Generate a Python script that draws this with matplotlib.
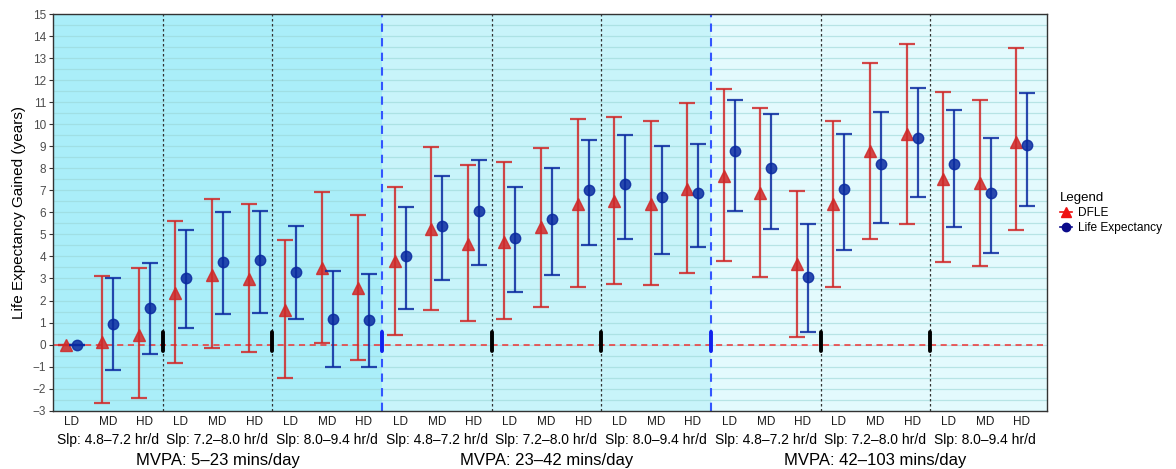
import matplotlib
matplotlib.use("Agg")
import matplotlib.pyplot as plt
from matplotlib.lines import Line2D
import numpy as np

plt.rcParams['font.family'] = ['Liberation Sans', 'DejaVu Sans']

# ---- data ----
dose_labels = ["LD", "MD", "HD"] * 9
sleep_labels = ["Slp: 4.8\u20137.2 hr/d", "Slp: 7.2\u20138.0 hr/d", "Slp: 8.0\u20139.4 hr/d"] * 3
mvpa_labels = ["MVPA: 5\u201323 mins/day", "MVPA: 23\u201342 mins/day", "MVPA: 42\u2013103 mins/day"]

dfle = [0.0, 0.13, 0.44, 2.33, 3.16, 2.96, 1.56, 3.46, 2.55,
        3.78, 5.25, 4.56, 4.64, 5.32, 6.38, 6.52, 6.38, 7.06,
        7.65, 6.86, 3.66, 6.37, 8.78, 9.54, 7.51, 7.33, 9.19]
dfle_lo = [0.0, -2.64, -2.42, -0.83, -0.15, -0.32, -1.53, 0.07, -0.68,
           0.44, 1.58, 1.08, 1.16, 1.71, 2.61, 2.75, 2.69, 3.25,
           3.79, 3.08, 0.34, 2.61, 4.79, 5.47, 3.76, 3.58, 5.20]
dfle_hi = [0.0, 3.10, 3.48, 5.62, 6.62, 6.39, 4.75, 6.91, 5.88,
           7.17, 8.97, 8.15, 8.28, 8.93, 10.25, 10.31, 10.13, 10.95,
           11.60, 10.73, 6.97, 10.15, 12.78, 13.64, 11.45, 11.11, 13.46]

le = [0.0, 0.95, 1.68, 3.02, 3.75, 3.82, 3.31, 1.16, 1.10,
      4.00, 5.38, 6.08, 4.85, 5.69, 7.01, 7.27, 6.68, 6.86,
      8.77, 8.03, 3.07, 7.07, 8.21, 9.37, 8.19, 6.89, 9.06]
le_lo = [0.0, -1.14, -0.41, 0.75, 1.39, 1.45, 1.16, -1.02, -1.02,
         1.62, 2.92, 3.61, 2.37, 3.16, 4.52, 4.77, 4.11, 4.41,
         6.05, 5.24, 0.59, 4.31, 5.52, 6.68, 5.35, 4.14, 6.29]
le_hi = [0.0, 3.01, 3.72, 5.21, 6.02, 6.08, 5.37, 3.32, 3.22,
         6.26, 7.66, 8.36, 7.15, 8.03, 9.28, 9.51, 9.02, 9.10,
         11.11, 10.45, 5.47, 9.54, 10.55, 11.64, 10.66, 9.37, 11.43]

region_colors = ["#AAEEF9", "#C8F4FA", "#E3FAFD"]

# ---- figure ----
fig = plt.figure(figsize=(11.76, 4.69), dpi=100)
ax = fig.add_axes([53 / 1176, 1 - 410.7 / 469, (1047.3 - 53) / 1176, (410.7 - 14) / 469])

n = len(dfle)
x = np.arange(1, n + 1)
xmin, xmax = 0.5, 27.7
ax.set_xlim(xmin, xmax)
ax.set_ylim(-3, 15)

# background regions
bounds = [xmin, 9.5, 18.5, xmax]
for i in range(3):
    ax.axvspan(bounds[i], bounds[i + 1], color=region_colors[i], zorder=0, lw=0)

# horizontal grid
for yv in np.arange(-3, 15.01, 0.5):
    ax.axhline(yv, color="#9AD6D6", lw=0.9, alpha=0.6, zorder=1)

# separators
for s in [3.5, 6.5, 12.5, 15.5, 21.5, 24.5]:
    ax.axvline(s, color="#333333", lw=0.9, ls=(0, (2, 2)), zorder=2)
    ax.plot([s, s], [-0.28, 0.57], color="black", lw=2.8, solid_capstyle="round", zorder=3)
for s in [9.5, 18.5]:
    ax.axvline(s, color="#3355FF", lw=1.5, ls=(0, (4, 3)), zorder=2)
    ax.plot([s, s], [-0.28, 0.57], color="#1122EE", lw=2.8, solid_capstyle="round", zorder=3)

ax.axhline(0, color="#EE3333", lw=1.1, ls=(0, (4, 3)), zorder=2.5)

red = "#D02828"
blue = "#0A2AA0"
off = 0.15
d = np.array(dfle); dl = np.array(dfle_lo); dh = np.array(dfle_hi)
l = np.array(le); ll = np.array(le_lo); lh = np.array(le_hi)
ax.errorbar(x - off, d, yerr=[np.clip(d - dl, 0, None), np.clip(dh - d, 0, None)], fmt="^",
            color=red, ecolor=red, ms=8, elinewidth=1.6, capsize=5.5, capthick=1.6,
            alpha=0.85, zorder=4)
ax.errorbar(x + off, l, yerr=[np.clip(l - ll, 0, None), np.clip(lh - l, 0, None)], fmt="o",
            color=blue, ecolor=blue, ms=7.5, elinewidth=1.6, capsize=5.5, capthick=1.6,
            alpha=0.85, zorder=5)

# axes styling
for sp in ax.spines.values():
    sp.set_color("#333333")
    sp.set_linewidth(1.0)
ax.set_yticks(np.arange(-3, 16, 1))
ax.set_yticklabels([str(v).replace("-", "\u2212") for v in range(-3, 16)])
ax.tick_params(axis="y", labelsize=8.5, labelcolor="#4D4D4D", color="#333333", length=3, pad=2)
ax.set_xticks(x)
ax.set_xticklabels(dose_labels)
ax.tick_params(axis="x", labelsize=8.5, labelcolor="#1A1A1A", length=0, pad=4)
ax.set_ylabel("Life Expectancy Gained (years)", fontsize=11, labelpad=5)

# group labels
for i, lab in enumerate(sleep_labels):
    xc = 3 * i + 2
    ax.text(xc, -3 - (440 - 410.7) / 22.04, lab, ha="center", va="center", fontsize=10,
            transform=ax.transData, clip_on=False)
for i, lab in enumerate(mvpa_labels):
    xc = 9 * i + 5
    ax.text(xc, -3 - (460.5 - 410.7) / 22.04, lab, ha="center", va="center", fontsize=12,
            transform=ax.transData, clip_on=False)

# legend
handles = [Line2D([0], [0], color="#EE1111", marker="^", ms=7, lw=1.2),
           Line2D([0], [0], color="#0B0B8B", marker="o", ms=6, lw=1.2)]
leg = fig.legend(handles, ["DFLE", "Life Expectancy"], title="Legend",
                 loc="upper left", bbox_to_anchor=(1052 / 1176, 1 - 184 / 469),
                 frameon=False, fontsize=8.6, title_fontsize=9.5, handlelength=1.0,
                 handletextpad=0.5, labelspacing=0.25, borderpad=0.2)
leg._legend_box.align = "left"

fig.savefig("out.png", dpi=100)
